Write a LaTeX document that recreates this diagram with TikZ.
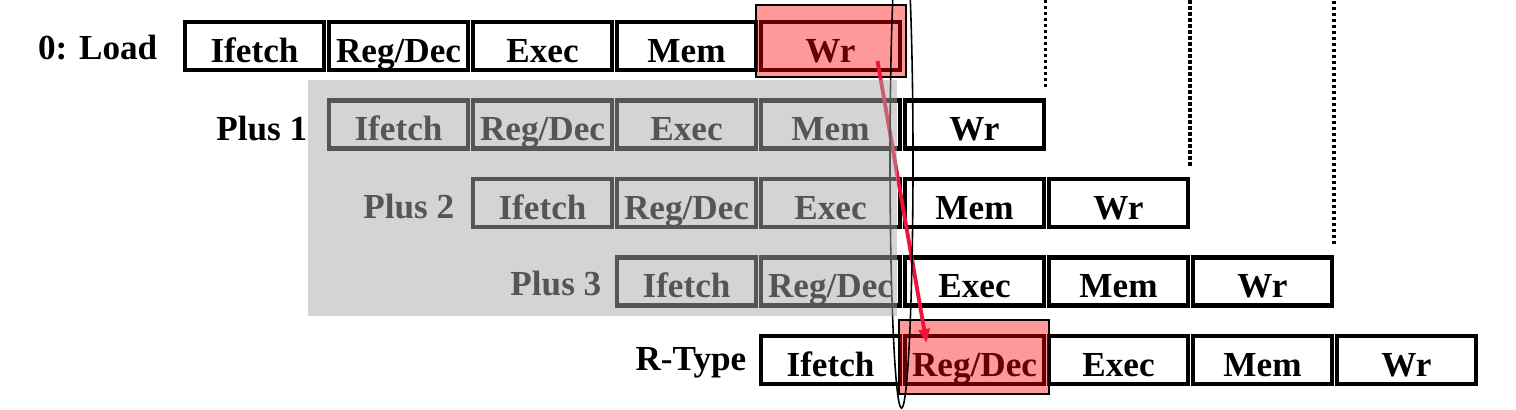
\documentclass[tikz,border=0pt]{standalone}
\usepackage{fontspec}
\setmainfont{Liberation Serif}
\usetikzlibrary{arrows.meta,calc,positioning}
\definecolor{HazardRed}{HTML}{F0143C}
\definecolor{HiliteRed}{HTML}{FF0000}
\definecolor{ShadeGray}{HTML}{AAAAAA}
\newcommand{\stagefont}{\fontsize{10pt}{11pt}\selectfont\bfseries}
\tikzset{
  stagebox/.style={draw=black,line width=1.15pt,fill=white,minimum width=1.39cm,
    minimum height=.48cm,inner sep=0pt,outer sep=0pt,text height=.32cm,text depth=0pt,
    font=\stagefont},
  rowlabel/.style={anchor=base east,inner sep=0pt,font=\stagefont},
  slotline/.style={draw=black,line width=1.1pt,dash pattern=on .035cm off .025cm},
  hilite/.style={draw=black,line width=.45pt,fill=HiliteRed,fill opacity=.4},
  hazard/.style={-{Triangle[length=.14cm,width=.11cm]},draw=HazardRed,line width=1.1pt},
  window/.style={draw=black,line width=.45pt},
  shade/.style={fill=ShadeGray,fill opacity=.5}
}

\begin{document}
\begin{tikzpicture}[x=.01cm,y=-.01cm]
  \useasboundingbox (0,0) rectangle (1516,409);
  \coordinate (top) at (0,0);
  \foreach \r/\lab/\lx/\ly in {0/{0: Load}/158/59,1/{Plus 1}/308/140,
      2/{Plus 2}/455/218,3/{Plus 3}/602/295,4/{R-Type}/747/370}{
    \node[rowlabel] (lab\r) at (\lx,\ly) {\lab};
    \foreach \name [count=\s from 0] in {Ifetch,Reg/Dec,Exec,Mem,Wr}{
      \node[stagebox] (p\r-\s) at ({254.5+144*(\r+\s)},{46+78.5*\r}) {\name};
    }
  }
  \foreach \r in {1,2,3}{
    \draw[slotline] ([xshift=.015cm,yshift=.13cm]p\r-4.north east)
      -- ([xshift=.015cm]p\r-4.north east |- top);
  }
  \draw[hilite] ($(p0-4.north west)+(-5,-17)$) rectangle ($(p0-4.south east)+(6,7)$);
  \draw[hilite] ($(p4-1.north west)+(-6,-16)$) rectangle ($(p4-1.south east)+(5,10)$);
  \coordinate (wbsrc) at ($(p0-4.center)+(47,15)$);
  \coordinate (wbdst) at ($(p4-1.center)+(-48,-17)$);
  \draw[hazard] (wbsrc) -- (wbdst);
  \draw[window] (901.5,160) ellipse [x radius=.115cm,y radius=2.48cm];
  \fill[shade] (308,80) rectangle (897,316);
\end{tikzpicture}
\end{document}
